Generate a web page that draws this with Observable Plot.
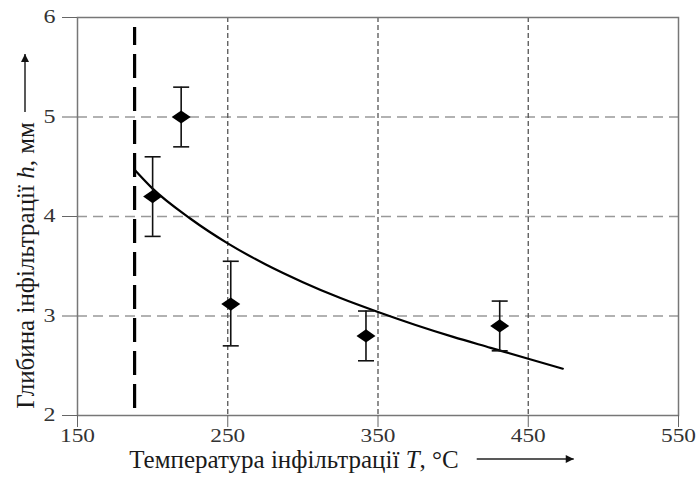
<!DOCTYPE html>
<html>
<head>
<meta charset="utf-8">
<script src="https://cdn.jsdelivr.net/npm/d3@7"></script>
<script src="https://cdn.jsdelivr.net/npm/@observablehq/plot@0.6"></script>
<style>
  html, body { margin: 0; padding: 0; background: #fff; }
  #chart svg { display: block; }
  #chart svg text { font-family: "Liberation Serif", "Times New Roman", serif !important; }
</style>
</head>
<body>
<div id="chart"></div>
<script>
// ---- data ----
const xTicks = [150, 250, 350, 450, 550];
const yTicks = [2, 3, 4, 5, 6];
const xGrid = [250, 350, 450];
const yGrid = [3, 4, 5];

// measured points (temperature, depth, error low, error high)
const temps = [200, 219, 252, 342, 431];
const depths = [4.2, 5.0, 3.12, 2.8, 2.9];
const errLow = [3.8, 4.7, 2.7, 2.55, 2.65];
const errHigh = [4.6, 5.3, 3.55, 3.05, 3.15];

// fitted curve
const curveT = [188, 200, 225, 250, 275, 300, 325, 350, 375, 400, 425, 450, 473];
const curveH = [4.47, 4.28, 3.98, 3.73, 3.52, 3.34, 3.18, 3.04, 2.91, 2.79, 2.68, 2.57, 2.47];

// boundary temperature (thick dashed line) and its extent
const boundaryT = [188];
const boundaryExtent = [2.07, 5.9];

const xLabel = "Температура інфільтрації T, °C";
const yLabel = "Глибина інфільтрації h, мм";

// ---- tables ----
const points = temps.map((t, i) => ({t, h: depths[i], lo: errLow[i], hi: errHigh[i]}));
const curve = curveT.map((t, i) => ({t, h: curveH[i]}));

const capSymbol = {
  draw(context) {
    context.moveTo(-8, 0);
    context.lineTo(8, 0);
  }
};
const wideDiamond = {
  draw(context) {
    context.moveTo(0, -6.6);
    context.lineTo(9.5, 0);
    context.lineTo(0, 6.6);
    context.lineTo(-9.5, 0);
    context.closePath();
  }
};

const serif = "Liberation Serif, Times New Roman, serif";

const plot = Plot.plot({
  width: 699,
  height: 482,
  marginTop: 17,
  marginBottom: 67,
  marginLeft: 77,
  marginRight: 21,
  style: {fontFamily: serif, fontSize: "18px", color: "#333", background: "#fff"},
  x: {domain: [150, 550]},
  y: {domain: [2, 6]},
  marks: [
    Plot.ruleY(yGrid, {stroke: "#999", strokeWidth: 1.5, strokeDasharray: "10,6"}),
    Plot.ruleX(xGrid, {stroke: "#555", strokeWidth: 1.3, strokeDasharray: "5,3"}),
    Plot.frame({stroke: "#777", strokeWidth: 1.5}),
    Plot.axisX({ticks: xTicks, tickFormat: d3.format("d"), tickSize: 12, tickPadding: 2, label: null,
      fontFamily: serif, fontSize: 18, stroke: "#666", fill: "#333"}),
    Plot.axisY({ticks: yTicks, tickFormat: d3.format("d"), tickSize: 15, tickPadding: 7, label: null,
      fontFamily: serif, fontSize: 18, stroke: "#666", fill: "#333"}),
    Plot.ruleX(boundaryT, {y1: boundaryExtent[0], y2: boundaryExtent[1], stroke: "#000", strokeWidth: 3.2, strokeDasharray: "24,9"}),
    Plot.line(curve, {x: "t", y: "h", curve: "monotone-x", stroke: "#000", strokeWidth: 2.2}),
    Plot.ruleX(points, {x: "t", y1: "lo", y2: "hi", stroke: "#111", strokeWidth: 1.6}),
    Plot.dot(points, {x: "t", y: "lo", symbol: capSymbol, stroke: "#111", strokeWidth: 1.6, r: 3}),
    Plot.dot(points, {x: "t", y: "hi", symbol: capSymbol, stroke: "#111", strokeWidth: 1.6, r: 3}),
    Plot.dot(points, {x: "t", y: "h", symbol: wideDiamond, fill: "#000", stroke: "none", r: 6}),
    Plot.text([xLabel], {frameAnchor: "bottom", textAnchor: "middle", dx: -84, dy: 52, fontSize: 25, fontFamily: serif, fill: "#1a1a1a", text: d => d}),
    Plot.text([yLabel], {frameAnchor: "left", textAnchor: "middle", dx: -52, dy: 49, rotate: -90, fontSize: 25, fontFamily: serif, fill: "#1a1a1a", text: d => d})
  ]
});

document.getElementById("chart").appendChild(plot);

const svg = d3.select(plot);

// widen tick-label glyphs as in the original figure
const xTickStr = new Set(xTicks.map(String));
const yTickStr = new Set(yTicks.map(String));
svg.selectAll("g[aria-label$='tick label'] text").each(function() {
  const t = this.textContent;
  const isX = this.parentNode.getAttribute("aria-label").startsWith("x");
  if (isX && xTickStr.has(t)) {
    this.setAttribute("textLength", 35);
    this.setAttribute("lengthAdjust", "spacingAndGlyphs");
  } else if (!isX && yTickStr.has(t)) {
    this.setAttribute("textLength", 12);
    this.setAttribute("lengthAdjust", "spacingAndGlyphs");
  }
});

// italic variable letters
svg.selectAll("text").each(function() {
  const t = this.textContent;
  if (t === xLabel || t === yLabel) {
    const v = t === xLabel ? "T" : "h";
    const idx = t.lastIndexOf(v + ",");
    const sel = d3.select(this);
    sel.text(null);
    sel.append("tspan").text(t.slice(0, idx));
    sel.append("tspan").attr("font-style", "italic").text(v);
    sel.append("tspan").text(t.slice(idx + 1));
    this.setAttribute("data-label", v);
  }
});

// arrows next to axis labels
const defs = svg.append("defs");
defs.append("marker").attr("id", "ah").attr("viewBox", "0 0 10 10").attr("refX", 10).attr("refY", 5)
  .attr("markerWidth", 13).attr("markerHeight", 8).attr("markerUnits", "userSpaceOnUse").attr("orient", "auto")
  .append("path").attr("d", "M0,0L10,5L0,10Z").attr("fill", "#111");
const svgRect = plot.getBoundingClientRect();
const xl = plot.querySelector("text[data-label='T']").getBoundingClientRect();
const yl = plot.querySelector("text[data-label='h']").getBoundingClientRect();
const xa = xl.right - svgRect.left + 18, ya = (xl.top + xl.bottom) / 2 - svgRect.top;
svg.append("line").attr("x1", xa).attr("x2", xa + 97).attr("y1", ya).attr("y2", ya)
  .attr("stroke", "#222").attr("stroke-width", 1.5).attr("marker-end", "url(#ah)");
const yx = (yl.left + yl.right) / 2 - svgRect.left, yy = yl.top - svgRect.top - 10;
svg.append("line").attr("x1", yx).attr("x2", yx).attr("y1", yy).attr("y2", yy - 58)
  .attr("stroke", "#222").attr("stroke-width", 1.5).attr("marker-end", "url(#ah)");
</script>
</body>
</html>
